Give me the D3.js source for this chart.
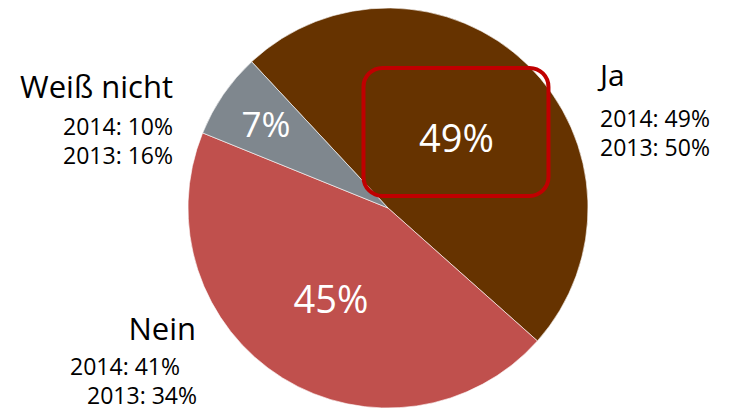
<!DOCTYPE html>
<html>
<head>
<meta charset="utf-8">
<script src="https://cdn.jsdelivr.net/npm/d3@7"></script>
<style>
  body { margin: 0; background: #fff; }
  svg { display: block; font-family: "Open Sans", sans-serif; }
</style>
</head>
<body>
<svg></svg>
<script>
let width = 729, height = 411;

// answers and their share in 2015 (reading of the picture)
var answers = ["Ja", "Nein", "Weiß nicht"]
var shares = [49, 45, 7]
var prev2014 = [49, 41, 10]
var prev2013 = [50, 34, 16]
var colors = ["#663300", "#C0504D", "#7F878E"]

let svg = d3.select("svg")
    .attr("width", width)
    .attr("height", height)

let cx = 388, cy = 208, r = 200

var pie = d3.pie()
    .sort(null)
    .startAngle(-43 * Math.PI / 180)
    .endAngle((360 - 43) * Math.PI / 180)

var arcs = pie(shares)
var arc = d3.arc().innerRadius(0).outerRadius(r)

let g = svg.append("g").attr("transform", "translate(" + cx + "," + cy + ")")

g.selectAll("path")
    .data(arcs)
    .enter()
    .append("path")
    .attr("d", arc)
    .attr("fill", (d, i) => colors[i])
    .attr("stroke", "#fff")
    .attr("stroke-width", 0.6)

// highlight box round the "Ja" value
let labelRadius = [0.49, 0.54, 0.74]
let jaPos = d3.arc().innerRadius(r * labelRadius[0]).outerRadius(r * labelRadius[0]).centroid(arcs[0])
g.append("rect")
    .attr("x", jaPos[0] - 93)
    .attr("y", jaPos[1] - 70)
    .attr("width", 185)
    .attr("height", 128)
    .attr("rx", 19)
    .attr("fill", "none")
    .attr("stroke", "#C00000")
    .attr("stroke-width", 4)

g.selectAll("text.pct")
    .data(arcs)
    .enter()
    .append("text")
    .attr("class", "pct")
    .attr("transform", (d, i) => {
        let a = d3.arc().innerRadius(r * labelRadius[i]).outerRadius(r * labelRadius[i])
        return "translate(" + a.centroid(d) + ")"
    })
    .attr("text-anchor", "middle")
    .attr("dy", "0.36em")
    .attr("fill", "#fff")
    .attr("font-size", (d, i) => i == 2 ? 35 : 38)
    .text(d => d.data + "%")

// outside labels
function label(x, y, anchor, size, txt) {
    svg.append("text")
        .attr("x", x).attr("y", y)
        .attr("text-anchor", anchor)
        .attr("font-size", size)
        .attr("fill", "#000")
        .text(txt)
}

label(600, 86, "start", 30, answers[0])
label(600, 127, "start", 23, "2014: " + prev2014[0] + "%")
label(600, 156, "start", 23, "2013: " + prev2013[0] + "%")

label(196, 340, "end", 31, answers[1])
label(180, 375, "end", 23, "2014: " + prev2014[1] + "%")
label(197, 404, "end", 23, "2013: " + prev2013[1] + "%")

label(173, 98, "end", 31, answers[2])
label(173, 135, "end", 23, "2014: " + prev2014[2] + "%")
label(173, 164, "end", 23, "2013: " + prev2013[2] + "%")
</script>
</body>
</html>
